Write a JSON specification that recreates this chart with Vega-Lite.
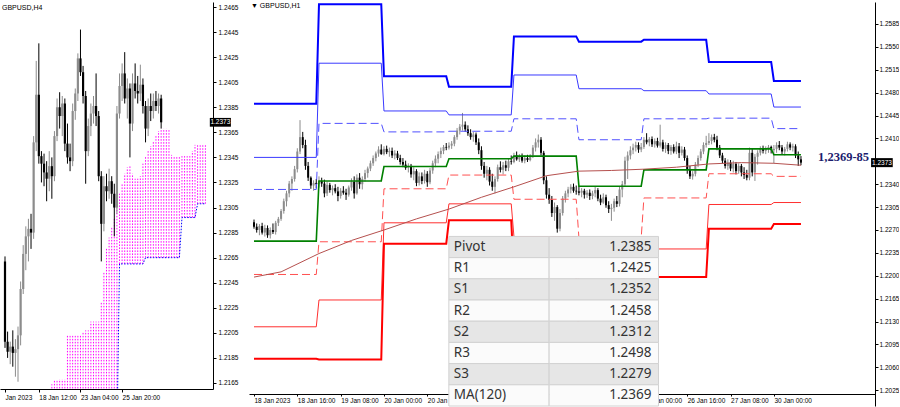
{
"$schema": "https://vega.github.io/schema/vega-lite/v6.json",
"padding": 0,
"background": "#ffffff",
"spacing": 6,
"config": {
 "view": {"stroke": null},
 "axis": {"labelFont": "Liberation Sans", "labelFontSize": 6.5, "labelColor": "#000000", "domainColor": "#000000", "tickColor": "#000000", "grid": false, "domainWidth": 1, "tickWidth": 1, "labelOverlap": false},
 "title": {"font": "Liberation Sans", "fontSize": 7, "fontWeight": "normal", "color": "#000000", "anchor": "start", "frame": "group", "offset": -9}
},
"datasets": {
 "one": [{}],
 "h4": [
{"i":0,"o":1.2262,"h":1.2266,"l":1.2193,"c":1.2198},
{"i":1,"o":1.2198,"h":1.2206,"l":1.2185,"c":1.2190},
{"i":2,"o":1.2190,"h":1.2198,"l":1.2180,"c":1.2194},
{"i":3,"o":1.2194,"h":1.2207,"l":1.2178,"c":1.2189},
{"i":4,"o":1.2189,"h":1.2200,"l":1.2170,"c":1.2192},
{"i":5,"o":1.2192,"h":1.2210,"l":1.2166,"c":1.2203},
{"i":6,"o":1.2203,"h":1.2246,"l":1.2195,"c":1.2240},
{"i":7,"o":1.2240,"h":1.2275,"l":1.2236,"c":1.2268},
{"i":8,"o":1.2268,"h":1.2290,"l":1.2255,"c":1.2282},
{"i":9,"o":1.2282,"h":1.2296,"l":1.2262,"c":1.2288},
{"i":10,"o":1.2288,"h":1.2300,"l":1.2272,"c":1.2285},
{"i":11,"o":1.2285,"h":1.2362,"l":1.2280,"c":1.2357},
{"i":12,"o":1.2357,"h":1.2422,"l":1.2350,"c":1.2395},
{"i":13,"o":1.2395,"h":1.2436,"l":1.2340,"c":1.2346},
{"i":14,"o":1.2346,"h":1.2350,"l":1.2325,"c":1.2340},
{"i":15,"o":1.2340,"h":1.2348,"l":1.2322,"c":1.2333},
{"i":16,"o":1.2333,"h":1.2342,"l":1.2310,"c":1.2328},
{"i":17,"o":1.2328,"h":1.2350,"l":1.2318,"c":1.2338},
{"i":18,"o":1.2338,"h":1.2345,"l":1.2312,"c":1.2330},
{"i":19,"o":1.2330,"h":1.2366,"l":1.2326,"c":1.2362},
{"i":20,"o":1.2362,"h":1.2392,"l":1.2358,"c":1.2385},
{"i":21,"o":1.2385,"h":1.2397,"l":1.2368,"c":1.2378},
{"i":22,"o":1.2378,"h":1.2394,"l":1.2362,"c":1.2388},
{"i":23,"o":1.2388,"h":1.2392,"l":1.2350,"c":1.2356},
{"i":24,"o":1.2356,"h":1.2372,"l":1.2340,"c":1.2345},
{"i":25,"o":1.2345,"h":1.2356,"l":1.2334,"c":1.2342},
{"i":26,"o":1.2342,"h":1.2388,"l":1.2338,"c":1.2382},
{"i":27,"o":1.2382,"h":1.2400,"l":1.2375,"c":1.2396},
{"i":28,"o":1.2396,"h":1.2428,"l":1.2390,"c":1.2424},
{"i":29,"o":1.2424,"h":1.2447,"l":1.2410,"c":1.2413},
{"i":30,"o":1.2413,"h":1.2418,"l":1.2388,"c":1.2394},
{"i":31,"o":1.2394,"h":1.2398,"l":1.2324,"c":1.2350},
{"i":32,"o":1.2350,"h":1.2376,"l":1.2346,"c":1.2370},
{"i":33,"o":1.2370,"h":1.2388,"l":1.2362,"c":1.2380},
{"i":34,"o":1.2380,"h":1.2394,"l":1.2372,"c":1.2386},
{"i":35,"o":1.2386,"h":1.2412,"l":1.2370,"c":1.2378},
{"i":36,"o":1.2378,"h":1.2382,"l":1.2326,"c":1.2330},
{"i":37,"o":1.2330,"h":1.2334,"l":1.2262,"c":1.2292},
{"i":38,"o":1.2292,"h":1.2330,"l":1.2286,"c":1.2322},
{"i":39,"o":1.2322,"h":1.2332,"l":1.2310,"c":1.2318},
{"i":40,"o":1.2318,"h":1.2336,"l":1.2312,"c":1.2326},
{"i":41,"o":1.2326,"h":1.2330,"l":1.2308,"c":1.2316},
{"i":42,"o":1.2316,"h":1.2324,"l":1.2282,"c":1.2305},
{"i":43,"o":1.2305,"h":1.2386,"l":1.2300,"c":1.2380},
{"i":44,"o":1.2380,"h":1.2412,"l":1.2376,"c":1.2402},
{"i":45,"o":1.2402,"h":1.2420,"l":1.2390,"c":1.2412},
{"i":46,"o":1.2412,"h":1.2429,"l":1.2388,"c":1.2392},
{"i":47,"o":1.2392,"h":1.2408,"l":1.2376,"c":1.2400},
{"i":48,"o":1.2400,"h":1.2404,"l":1.2345,"c":1.2372},
{"i":49,"o":1.2372,"h":1.2412,"l":1.2366,"c":1.2404},
{"i":50,"o":1.2404,"h":1.2420,"l":1.2392,"c":1.2398},
{"i":51,"o":1.2398,"h":1.2410,"l":1.2388,"c":1.2396},
{"i":52,"o":1.2396,"h":1.2419,"l":1.2390,"c":1.2403},
{"i":53,"o":1.2403,"h":1.2408,"l":1.2380,"c":1.2386},
{"i":54,"o":1.2386,"h":1.2390,"l":1.2357,"c":1.2368},
{"i":55,"o":1.2368,"h":1.2392,"l":1.2362,"c":1.2386},
{"i":56,"o":1.2386,"h":1.2396,"l":1.2374,"c":1.2382},
{"i":57,"o":1.2382,"h":1.2396,"l":1.2376,"c":1.2390},
{"i":58,"o":1.2390,"h":1.2398,"l":1.2382,"c":1.2386},
{"i":59,"o":1.2386,"h":1.2396,"l":1.2380,"c":1.2392},
{"i":60,"o":1.2392,"h":1.2395,"l":1.2368,"c":1.2373}
 ],
 "cloud": [
{"k":18,"t":1.2164,"b":1.2120},{"k":19,"t":1.2167,"b":1.2120},{"k":20,"t":1.2167,"b":1.2120},{"k":21,"t":1.2168,"b":1.2120},
{"k":22,"t":1.2168,"b":1.2120},{"k":23,"t":1.2168,"b":1.2120},{"k":24,"t":1.2203,"b":1.2120},{"k":25,"t":1.2203,"b":1.2120},
{"k":26,"t":1.2203,"b":1.2120},{"k":27,"t":1.2203,"b":1.2120},{"k":28,"t":1.2203,"b":1.2120},{"k":29,"t":1.2203,"b":1.2120},
{"k":30,"t":1.2205,"b":1.2120},{"k":31,"t":1.2207,"b":1.2120},{"k":32,"t":1.2207,"b":1.2120},{"k":33,"t":1.2214,"b":1.2120},
{"k":34,"t":1.2214,"b":1.2120},{"k":35,"t":1.2214,"b":1.2120},{"k":36,"t":1.2214,"b":1.2120},{"k":37,"t":1.2230,"b":1.2120},
{"k":38,"t":1.2254,"b":1.2120},{"k":39,"t":1.2273,"b":1.2120},{"k":40,"t":1.2281,"b":1.2120},{"k":41,"t":1.2289,"b":1.2120},
{"k":42,"t":1.2297,"b":1.2120},{"k":43,"t":1.2305,"b":1.2120},{"k":44,"t":1.2316,"b":1.2260},{"k":45,"t":1.2324,"b":1.2260},
{"k":46,"t":1.2332,"b":1.2260},{"k":47,"t":1.2337,"b":1.2260},{"k":48,"t":1.2339,"b":1.2260},{"k":49,"t":1.2332,"b":1.2260},
{"k":50,"t":1.2328,"b":1.2260},{"k":51,"t":1.2328,"b":1.2260},{"k":52,"t":1.2330,"b":1.2260},{"k":53,"t":1.2340,"b":1.2260},
{"k":54,"t":1.2346,"b":1.2265},{"k":55,"t":1.2350,"b":1.2265},{"k":56,"t":1.2354,"b":1.2265},{"k":57,"t":1.2358,"b":1.2265},
{"k":58,"t":1.2362,"b":1.2265},{"k":59,"t":1.2366,"b":1.2265},{"k":60,"t":1.2368,"b":1.2265},{"k":61,"t":1.2368,"b":1.2265},
{"k":62,"t":1.2368,"b":1.2265},{"k":63,"t":1.2367,"b":1.2265},{"k":64,"t":1.2347,"b":1.2265},{"k":65,"t":1.2346,"b":1.2265},
{"k":66,"t":1.2346,"b":1.2265},{"k":67,"t":1.2346,"b":1.2265},{"k":68,"t":1.2346,"b":1.2297},{"k":69,"t":1.2346,"b":1.2297},
{"k":70,"t":1.2346,"b":1.2297},{"k":71,"t":1.2346,"b":1.2297},{"k":72,"t":1.2350,"b":1.2297},{"k":73,"t":1.2355,"b":1.2297},
{"k":74,"t":1.2355,"b":1.2308},{"k":75,"t":1.2355,"b":1.2308},{"k":76,"t":1.2355,"b":1.2308},{"k":77,"t":1.2355,"b":1.2308}
 ],
 "h1": [
{"i":0,"o":1.2282,"h":1.2286,"l":1.2272,"c":1.2275},{"i":1,"o":1.2275,"h":1.2280,"l":1.2266,"c":1.2270},
{"i":2,"o":1.2270,"h":1.2279,"l":1.2262,"c":1.2276},{"i":3,"o":1.2276,"h":1.2281,"l":1.2263,"c":1.2266},
{"i":4,"o":1.2266,"h":1.2278,"l":1.2260,"c":1.2273},{"i":5,"o":1.2273,"h":1.2277,"l":1.2258,"c":1.2262},
{"i":6,"o":1.2262,"h":1.2274,"l":1.2257,"c":1.2270},{"i":7,"o":1.2270,"h":1.2280,"l":1.2264,"c":1.2267},
{"i":8,"o":1.2267,"h":1.2284,"l":1.2263,"c":1.2281},{"i":9,"o":1.2281,"h":1.2290,"l":1.2276,"c":1.2287},
{"i":10,"o":1.2287,"h":1.2302,"l":1.2284,"c":1.2299},{"i":11,"o":1.2299,"h":1.2318,"l":1.2295,"c":1.2314},
{"i":12,"o":1.2314,"h":1.2330,"l":1.2306,"c":1.2326},{"i":13,"o":1.2326,"h":1.2345,"l":1.2320,"c":1.2341},
{"i":14,"o":1.2341,"h":1.2352,"l":1.2330,"c":1.2348},{"i":15,"o":1.2348,"h":1.2368,"l":1.2344,"c":1.2363},
{"i":16,"o":1.2363,"h":1.2395,"l":1.2358,"c":1.2390},{"i":17,"o":1.2390,"h":1.2438,"l":1.2386,"c":1.2412},
{"i":18,"o":1.2412,"h":1.2420,"l":1.2395,"c":1.2400},{"i":19,"o":1.2400,"h":1.2408,"l":1.2362,"c":1.2368},
{"i":20,"o":1.2368,"h":1.2374,"l":1.2345,"c":1.2350},{"i":21,"o":1.2350,"h":1.2352,"l":1.2333,"c":1.2338},
{"i":22,"o":1.2338,"h":1.2346,"l":1.2330,"c":1.2342},{"i":23,"o":1.2342,"h":1.2348,"l":1.2334,"c":1.2340},
{"i":24,"o":1.2340,"h":1.2352,"l":1.2335,"c":1.2345},{"i":25,"o":1.2345,"h":1.2350,"l":1.2336,"c":1.2341},
{"i":26,"o":1.2341,"h":1.2347,"l":1.2320,"c":1.2326},{"i":27,"o":1.2326,"h":1.2344,"l":1.2322,"c":1.2339},
{"i":28,"o":1.2339,"h":1.2342,"l":1.2327,"c":1.2331},{"i":29,"o":1.2331,"h":1.2338,"l":1.2323,"c":1.2334},
{"i":30,"o":1.2334,"h":1.2340,"l":1.2326,"c":1.2329},{"i":31,"o":1.2329,"h":1.2336,"l":1.2314,"c":1.2322},
{"i":32,"o":1.2322,"h":1.2334,"l":1.2318,"c":1.2330},{"i":33,"o":1.2330,"h":1.2337,"l":1.2324,"c":1.2327},
{"i":34,"o":1.2327,"h":1.2333,"l":1.2316,"c":1.2324},{"i":35,"o":1.2324,"h":1.2338,"l":1.2321,"c":1.2335},
{"i":36,"o":1.2335,"h":1.2349,"l":1.2330,"c":1.2344},{"i":37,"o":1.2344,"h":1.2352,"l":1.2318,"c":1.2326},
{"i":38,"o":1.2326,"h":1.2355,"l":1.2324,"c":1.2350},{"i":39,"o":1.2350,"h":1.2357,"l":1.2333,"c":1.2340},
{"i":40,"o":1.2340,"h":1.2352,"l":1.2332,"c":1.2348},{"i":41,"o":1.2348,"h":1.2362,"l":1.2344,"c":1.2357},
{"i":42,"o":1.2357,"h":1.2367,"l":1.2350,"c":1.2364},{"i":43,"o":1.2364,"h":1.2376,"l":1.2360,"c":1.2372},
{"i":44,"o":1.2372,"h":1.2384,"l":1.2368,"c":1.2380},{"i":45,"o":1.2380,"h":1.2390,"l":1.2375,"c":1.2387},
{"i":46,"o":1.2387,"h":1.2398,"l":1.2382,"c":1.2393},{"i":47,"o":1.2393,"h":1.2401,"l":1.2385,"c":1.2386},
{"i":48,"o":1.2386,"h":1.2398,"l":1.2384,"c":1.2394},{"i":49,"o":1.2394,"h":1.2399,"l":1.2386,"c":1.2389},
{"i":50,"o":1.2389,"h":1.2396,"l":1.2382,"c":1.2391},{"i":51,"o":1.2391,"h":1.2396,"l":1.2380,"c":1.2384},
{"i":52,"o":1.2384,"h":1.2392,"l":1.2378,"c":1.2387},{"i":53,"o":1.2387,"h":1.2391,"l":1.2377,"c":1.2380},
{"i":54,"o":1.2380,"h":1.2385,"l":1.2370,"c":1.2374},{"i":55,"o":1.2374,"h":1.2380,"l":1.2366,"c":1.2370},
{"i":56,"o":1.2370,"h":1.2376,"l":1.2362,"c":1.2365},{"i":57,"o":1.2365,"h":1.2372,"l":1.2358,"c":1.2368},
{"i":58,"o":1.2368,"h":1.2371,"l":1.2350,"c":1.2355},{"i":59,"o":1.2355,"h":1.2366,"l":1.2346,"c":1.2360},
{"i":60,"o":1.2360,"h":1.2363,"l":1.2337,"c":1.2342},{"i":61,"o":1.2342,"h":1.2358,"l":1.2338,"c":1.2352},
{"i":62,"o":1.2352,"h":1.2358,"l":1.2340,"c":1.2345},{"i":63,"o":1.2345,"h":1.2362,"l":1.2341,"c":1.2356},
{"i":64,"o":1.2356,"h":1.2360,"l":1.2336,"c":1.2343},{"i":65,"o":1.2343,"h":1.2365,"l":1.2340,"c":1.2361},
{"i":66,"o":1.2361,"h":1.2376,"l":1.2356,"c":1.2372},{"i":67,"o":1.2372,"h":1.2384,"l":1.2366,"c":1.2379},
{"i":68,"o":1.2379,"h":1.2390,"l":1.2372,"c":1.2386},{"i":69,"o":1.2386,"h":1.2396,"l":1.2380,"c":1.2391},
{"i":70,"o":1.2391,"h":1.2400,"l":1.2386,"c":1.2397},{"i":71,"o":1.2397,"h":1.2403,"l":1.2392,"c":1.2396},
{"i":72,"o":1.2396,"h":1.2404,"l":1.2393,"c":1.2399},{"i":73,"o":1.2399,"h":1.2406,"l":1.2394,"c":1.2402},
{"i":74,"o":1.2402,"h":1.2415,"l":1.2398,"c":1.2412},{"i":75,"o":1.2412,"h":1.2426,"l":1.2408,"c":1.2422},
{"i":76,"o":1.2422,"h":1.2432,"l":1.2416,"c":1.2428},{"i":77,"o":1.2428,"h":1.2449,"l":1.2422,"c":1.2431},
{"i":78,"o":1.2431,"h":1.2436,"l":1.2420,"c":1.2424},{"i":79,"o":1.2424,"h":1.2430,"l":1.2414,"c":1.2418},
{"i":80,"o":1.2418,"h":1.2424,"l":1.2408,"c":1.2412},{"i":81,"o":1.2412,"h":1.2420,"l":1.2405,"c":1.2416},
{"i":82,"o":1.2416,"h":1.2419,"l":1.2400,"c":1.2404},{"i":83,"o":1.2404,"h":1.2410,"l":1.2386,"c":1.2392},
{"i":84,"o":1.2392,"h":1.2398,"l":1.2362,"c":1.2368},{"i":85,"o":1.2368,"h":1.2374,"l":1.2350,"c":1.2356},
{"i":86,"o":1.2356,"h":1.2368,"l":1.2346,"c":1.2362},{"i":87,"o":1.2362,"h":1.2366,"l":1.2338,"c":1.2344},
{"i":88,"o":1.2344,"h":1.2356,"l":1.2330,"c":1.2336},{"i":89,"o":1.2336,"h":1.2352,"l":1.2326,"c":1.2348},
{"i":90,"o":1.2348,"h":1.2370,"l":1.2344,"c":1.2366},{"i":91,"o":1.2366,"h":1.2375,"l":1.2358,"c":1.2362},
{"i":92,"o":1.2362,"h":1.2374,"l":1.2355,"c":1.2369},{"i":93,"o":1.2369,"h":1.2376,"l":1.2360,"c":1.2365},
{"i":94,"o":1.2365,"h":1.2380,"l":1.2360,"c":1.2375},{"i":95,"o":1.2375,"h":1.2384,"l":1.2370,"c":1.2374},
{"i":96,"o":1.2374,"h":1.2388,"l":1.2372,"c":1.2384},{"i":97,"o":1.2384,"h":1.2390,"l":1.2376,"c":1.2378},
{"i":98,"o":1.2378,"h":1.2386,"l":1.2374,"c":1.2382},{"i":99,"o":1.2382,"h":1.2387,"l":1.2373,"c":1.2376},
{"i":100,"o":1.2376,"h":1.2384,"l":1.2372,"c":1.2380},{"i":101,"o":1.2380,"h":1.2385,"l":1.2374,"c":1.2377},
{"i":102,"o":1.2377,"h":1.2386,"l":1.2375,"c":1.2384},{"i":103,"o":1.2384,"h":1.2400,"l":1.2380,"c":1.2396},
{"i":104,"o":1.2396,"h":1.2410,"l":1.2390,"c":1.2404},{"i":105,"o":1.2404,"h":1.2416,"l":1.2396,"c":1.2408},
{"i":106,"o":1.2408,"h":1.2412,"l":1.2384,"c":1.2388},{"i":107,"o":1.2388,"h":1.2391,"l":1.2340,"c":1.2346},
{"i":108,"o":1.2346,"h":1.2352,"l":1.2318,"c":1.2324},{"i":109,"o":1.2324,"h":1.2334,"l":1.2310,"c":1.2316},
{"i":110,"o":1.2316,"h":1.2322,"l":1.2290,"c":1.2296},{"i":111,"o":1.2296,"h":1.2312,"l":1.2284,"c":1.2305},
{"i":112,"o":1.2305,"h":1.2308,"l":1.2266,"c":1.2272},{"i":113,"o":1.2272,"h":1.2302,"l":1.2268,"c":1.2296},
{"i":114,"o":1.2296,"h":1.2322,"l":1.2292,"c":1.2318},{"i":115,"o":1.2318,"h":1.2330,"l":1.2312,"c":1.2326},
{"i":116,"o":1.2326,"h":1.2336,"l":1.2320,"c":1.2332},{"i":117,"o":1.2332,"h":1.2340,"l":1.2326,"c":1.2336},
{"i":118,"o":1.2336,"h":1.2341,"l":1.2327,"c":1.2330},{"i":119,"o":1.2330,"h":1.2338,"l":1.2324,"c":1.2329},
{"i":120,"o":1.2329,"h":1.2337,"l":1.2323,"c":1.2327},{"i":121,"o":1.2327,"h":1.2334,"l":1.2320,"c":1.2330},
{"i":122,"o":1.2330,"h":1.2333,"l":1.2318,"c":1.2324},{"i":123,"o":1.2324,"h":1.2331,"l":1.2319,"c":1.2327},
{"i":124,"o":1.2327,"h":1.2332,"l":1.2316,"c":1.2322},{"i":125,"o":1.2322,"h":1.2330,"l":1.2317,"c":1.2326},
{"i":126,"o":1.2326,"h":1.2336,"l":1.2320,"c":1.2331},{"i":127,"o":1.2331,"h":1.2334,"l":1.2314,"c":1.2318},
{"i":128,"o":1.2318,"h":1.2324,"l":1.2308,"c":1.2312},{"i":129,"o":1.2312,"h":1.2326,"l":1.2310,"c":1.2320},
{"i":130,"o":1.2320,"h":1.2324,"l":1.2304,"c":1.2308},{"i":131,"o":1.2308,"h":1.2314,"l":1.2296,"c":1.2302},
{"i":132,"o":1.2302,"h":1.2310,"l":1.2284,"c":1.2304},{"i":133,"o":1.2304,"h":1.2318,"l":1.2298,"c":1.2314},
{"i":134,"o":1.2314,"h":1.2322,"l":1.2305,"c":1.2310},{"i":135,"o":1.2310,"h":1.2336,"l":1.2306,"c":1.2332},
{"i":136,"o":1.2332,"h":1.2345,"l":1.2320,"c":1.2340},{"i":137,"o":1.2340,"h":1.2382,"l":1.2336,"c":1.2376},
{"i":138,"o":1.2376,"h":1.2390,"l":1.2348,"c":1.2384},{"i":139,"o":1.2384,"h":1.2398,"l":1.2378,"c":1.2392},
{"i":140,"o":1.2392,"h":1.2402,"l":1.2386,"c":1.2396},{"i":141,"o":1.2396,"h":1.2405,"l":1.2390,"c":1.2400},
{"i":142,"o":1.2400,"h":1.2404,"l":1.2388,"c":1.2393},{"i":143,"o":1.2393,"h":1.2403,"l":1.2389,"c":1.2397},
{"i":144,"o":1.2397,"h":1.2412,"l":1.2394,"c":1.2408},{"i":145,"o":1.2408,"h":1.2418,"l":1.2401,"c":1.2404},
{"i":146,"o":1.2404,"h":1.2412,"l":1.2398,"c":1.2409},{"i":147,"o":1.2409,"h":1.2413,"l":1.2397,"c":1.2401},
{"i":148,"o":1.2401,"h":1.2410,"l":1.2396,"c":1.2406},{"i":149,"o":1.2406,"h":1.2411,"l":1.2396,"c":1.2399},
{"i":150,"o":1.2399,"h":1.2431,"l":1.2396,"c":1.2404},{"i":151,"o":1.2404,"h":1.2408,"l":1.2390,"c":1.2394},
{"i":152,"o":1.2394,"h":1.2404,"l":1.2388,"c":1.2400},{"i":153,"o":1.2400,"h":1.2403,"l":1.2386,"c":1.2391},
{"i":154,"o":1.2391,"h":1.2400,"l":1.2385,"c":1.2397},{"i":155,"o":1.2397,"h":1.2401,"l":1.2387,"c":1.2390},
{"i":156,"o":1.2390,"h":1.2405,"l":1.2386,"c":1.2398},{"i":157,"o":1.2398,"h":1.2403,"l":1.2380,"c":1.2388},
{"i":158,"o":1.2388,"h":1.2398,"l":1.2384,"c":1.2393},{"i":159,"o":1.2393,"h":1.2397,"l":1.2376,"c":1.2380},
{"i":160,"o":1.2380,"h":1.2384,"l":1.2356,"c":1.2362},{"i":161,"o":1.2362,"h":1.2368,"l":1.2348,"c":1.2352},
{"i":162,"o":1.2352,"h":1.2360,"l":1.2347,"c":1.2356},{"i":163,"o":1.2356,"h":1.2374,"l":1.2352,"c":1.2370},
{"i":164,"o":1.2370,"h":1.2384,"l":1.2366,"c":1.2380},{"i":165,"o":1.2380,"h":1.2394,"l":1.2376,"c":1.2390},
{"i":166,"o":1.2390,"h":1.2404,"l":1.2386,"c":1.2400},{"i":167,"o":1.2400,"h":1.2414,"l":1.2396,"c":1.2403},
{"i":168,"o":1.2403,"h":1.2418,"l":1.2400,"c":1.2406},{"i":169,"o":1.2406,"h":1.2416,"l":1.2401,"c":1.2412},
{"i":170,"o":1.2412,"h":1.2417,"l":1.2404,"c":1.2408},{"i":171,"o":1.2408,"h":1.2414,"l":1.2392,"c":1.2396},
{"i":172,"o":1.2396,"h":1.2400,"l":1.2380,"c":1.2384},{"i":173,"o":1.2384,"h":1.2388,"l":1.2372,"c":1.2376},
{"i":174,"o":1.2376,"h":1.2380,"l":1.2364,"c":1.2368},{"i":175,"o":1.2368,"h":1.2378,"l":1.2362,"c":1.2373},
{"i":176,"o":1.2373,"h":1.2377,"l":1.2360,"c":1.2364},{"i":177,"o":1.2364,"h":1.2376,"l":1.2358,"c":1.2371},
{"i":178,"o":1.2371,"h":1.2374,"l":1.2355,"c":1.2360},{"i":179,"o":1.2360,"h":1.2372,"l":1.2356,"c":1.2368},
{"i":180,"o":1.2368,"h":1.2371,"l":1.2352,"c":1.2358},{"i":181,"o":1.2358,"h":1.2366,"l":1.2348,"c":1.2354},
{"i":182,"o":1.2354,"h":1.2362,"l":1.2346,"c":1.2350},{"i":183,"o":1.2350,"h":1.2396,"l":1.2346,"c":1.2388},
{"i":184,"o":1.2388,"h":1.2394,"l":1.2352,"c":1.2358},{"i":185,"o":1.2358,"h":1.2386,"l":1.2345,"c":1.2382},
{"i":186,"o":1.2382,"h":1.2392,"l":1.2370,"c":1.2388},{"i":187,"o":1.2388,"h":1.2398,"l":1.2384,"c":1.2394},
{"i":188,"o":1.2394,"h":1.2399,"l":1.2387,"c":1.2391},{"i":189,"o":1.2391,"h":1.2398,"l":1.2386,"c":1.2395},
{"i":190,"o":1.2395,"h":1.2400,"l":1.2388,"c":1.2397},{"i":191,"o":1.2397,"h":1.2399,"l":1.2387,"c":1.2392},
{"i":192,"o":1.2392,"h":1.2400,"l":1.2372,"c":1.2394},{"i":193,"o":1.2394,"h":1.2404,"l":1.2388,"c":1.2400},
{"i":194,"o":1.2400,"h":1.2406,"l":1.2392,"c":1.2396},{"i":195,"o":1.2396,"h":1.2400,"l":1.2386,"c":1.2390},
{"i":196,"o":1.2390,"h":1.2397,"l":1.2384,"c":1.2394},{"i":197,"o":1.2394,"h":1.2405,"l":1.2390,"c":1.2401},
{"i":198,"o":1.2401,"h":1.2404,"l":1.2392,"c":1.2396},{"i":199,"o":1.2396,"h":1.2402,"l":1.2390,"c":1.2398},
{"i":200,"o":1.2398,"h":1.2401,"l":1.2380,"c":1.2384},{"i":201,"o":1.2384,"h":1.2390,"l":1.2368,"c":1.2378},
{"i":202,"o":1.2378,"h":1.2383,"l":1.2369,"c":1.2373}
 ],
 "piv": [
{"i":0,"R3":1.2463,"R2":1.2381,"R1":1.2332,"P":1.2253,"S1":1.2202,"S2":1.2122,"S3":1.2073},
{"i":23,"R3":1.2463,"R2":1.2381,"R1":1.2332,"P":1.2253,"S1":1.2202,"S2":1.2122,"S3":1.2073},
{"i":24,"R3":1.2615,"R2":1.2525,"R1":1.2433,"P":1.2345,"S1":1.2252,"S2":1.2163,"S3":1.2072},
{"i":47,"R3":1.2615,"R2":1.2525,"R1":1.2433,"P":1.2345,"S1":1.2252,"S2":1.2163,"S3":1.2072},
{"i":48,"R3":1.2505,"R2":1.2452,"R1":1.2420,"P":1.2367,"S1":1.2333,"S2":1.2281,"S3":1.2249},
{"i":71,"R3":1.2505,"R2":1.2452,"R1":1.2420,"P":1.2367,"S1":1.2333,"S2":1.2281,"S3":1.2249},
{"i":72,"R3":1.2489,"R2":1.2446,"R1":1.2421,"P":1.2379,"S1":1.2354,"S2":1.2310,"S3":1.2285},
{"i":95,"R3":1.2489,"R2":1.2446,"R1":1.2421,"P":1.2379,"S1":1.2354,"S2":1.2310,"S3":1.2285},
{"i":96,"R3":1.2566,"R2":1.2507,"R1":1.2440,"P":1.2383,"S1":1.2317,"S2":1.2260,"S3":1.2198},
{"i":119,"R3":1.2566,"R2":1.2507,"R1":1.2440,"P":1.2383,"S1":1.2317,"S2":1.2260,"S3":1.2198},
{"i":120,"R3":1.2558,"R2":1.2486,"R1":1.2408,"P":1.2337,"S1":1.2258,"S2":1.2187,"S3":1.2108},
{"i":143,"R3":1.2558,"R2":1.2486,"R1":1.2408,"P":1.2337,"S1":1.2258,"S2":1.2187,"S3":1.2108},
{"i":144,"R3":1.2561,"R2":1.2483,"R1":1.2440,"P":1.2362,"S1":1.2319,"S2":1.2241,"S3":1.2198},
{"i":167,"R3":1.2561,"R2":1.2483,"R1":1.2440,"P":1.2362,"S1":1.2319,"S2":1.2241,"S3":1.2198},
{"i":168,"R3":1.2527,"R2":1.2478,"R1":1.2441,"P":1.2394,"S1":1.2356,"S2":1.2309,"S3":1.2272},
{"i":191,"R3":1.2527,"R2":1.2478,"R1":1.2441,"P":1.2394,"S1":1.2356,"S2":1.2309,"S3":1.2272},
{"i":192,"R3":1.2498,"R2":1.2458,"R1":1.2425,"P":1.2385,"S1":1.2352,"S2":1.2312,"S3":1.2279},
{"i":202,"R3":1.2498,"R2":1.2458,"R1":1.2425,"P":1.2385,"S1":1.2352,"S2":1.2312,"S3":1.2279}
 ],
 "ma": [
{"i":0,"v":1.2198},{"i":10,"v":1.2206},{"i":24,"v":1.2234},{"i":36,"v":1.2254},{"i":48,"v":1.2270},
{"i":60,"v":1.2287},{"i":72,"v":1.2302},{"i":84,"v":1.2320},{"i":96,"v":1.2336},{"i":108,"v":1.2353},
{"i":120,"v":1.2360},{"i":132,"v":1.2361},{"i":144,"v":1.2363},{"i":156,"v":1.2366},{"i":168,"v":1.2371},
{"i":180,"v":1.2373},{"i":192,"v":1.2372},{"i":202,"v":1.2369}
 ],
 "tbl": [
{"k":"Pivot","v":1.2385},{"k":"R1","v":1.2425},{"k":"S1","v":1.2352},{"k":"R2","v":1.2458},
{"k":"S2","v":1.2312},{"k":"R3","v":1.2498},{"k":"S3","v":1.2279},{"k":"MA(120)","v":1.2369}
 ]
},
"hconcat": [
 {
  "width": 213, "height": 387,
  "title": {"text": "GBPUSD,H4", "dx": 2},
  "layer": [
   {"data": {"name": "cloud"},
    "mark": {"type": "rule", "clip": true, "color": "#ff00ff", "strokeDash": [1.5, 1.5], "strokeWidth": 1},
    "encoding": {
     "x": {"field": "k", "type": "quantitative", "title": null, "scale": {"domain": [0, 78], "nice": false, "zero": false},
      "axis": {"values": [0, 13, 29, 45], "labelExpr": "datum.value == 0 ? 'Jan 2023' : datum.value == 13 ? '18 Jan 12:00' : datum.value == 29 ? '23 Jan 04:00' : '25 Jan 20:00'", "labelAlign": "left", "tickSize": 3, "labelPadding": 2, "labelOverlap": false, "labelFlush": false, "tickCount": 100}},
     "y": {"field": "b", "type": "quantitative", "title": null, "scale": {"domain": [1.21602, 1.2469], "nice": false, "zero": false},
      "axis": {"orient": "right", "values": [1.2165,1.2185,1.2205,1.2225,1.2245,1.2265,1.2285,1.2305,1.2325,1.2345,1.2365,1.2385,1.2405,1.2425,1.2445,1.2465], "format": ".4f", "tickSize": 3, "labelPadding": 2, "minExtent": 30, "maxExtent": 30, "labelOverlap": false, "tickCount": 100}},
     "y2": {"field": "t"}
    }},
   {"data": {"name": "cloud"},
    "transform": [{"filter": "datum.k >= 43"}],
    "mark": {"type": "line", "clip": true, "color": "#0000ff", "strokeDash": [1.5, 1.5], "strokeWidth": 1},
    "encoding": {
     "x": {"field": "k", "type": "quantitative", "title": null, "scale": {"domain": [0, 78], "nice": false, "zero": false}},
     "y": {"field": "b", "type": "quantitative", "title": null, "scale": {"domain": [1.21602, 1.2469], "nice": false, "zero": false}}
    }},
   {"data": {"name": "h4"},
    "mark": {"type": "rule", "strokeWidth": 1},
    "encoding": {
     "x": {"field": "i", "type": "quantitative", "title": null, "scale": {"domain": [0, 78], "nice": false, "zero": false}},
     "y": {"field": "l", "type": "quantitative", "title": null, "scale": {"domain": [1.21602, 1.2469], "nice": false, "zero": false}},
     "y2": {"field": "h"},
     "color": {"condition": {"test": "datum.c < datum.o", "value": "#000000"}, "value": "#8c8c8c"}
    }},
   {"data": {"name": "h4"},
    "mark": {"type": "bar", "width": 2.2},
    "encoding": {
     "x": {"field": "i", "type": "quantitative", "title": null, "scale": {"domain": [0, 78], "nice": false, "zero": false}},
     "y": {"field": "o", "type": "quantitative", "title": null, "scale": {"domain": [1.21602, 1.2469], "nice": false, "zero": false}},
     "y2": {"field": "c"},
     "color": {"condition": {"test": "datum.c < datum.o", "value": "#000000"}, "value": "#8c8c8c"}
    }},
   {"data": {"name": "one"},
    "mark": {"type": "rect", "color": "#000000"},
    "encoding": {
     "x": {"datum": 78.7, "type": "quantitative", "title": null, "scale": {"domain": [0, 78], "nice": false, "zero": false}},
     "x2": {"datum": 86.8},
     "y": {"datum": 1.23765, "type": "quantitative", "title": null, "scale": {"domain": [1.21602, 1.2469], "nice": false, "zero": false}},
     "y2": {"datum": 1.23695}
    }},
   {"data": {"name": "one"},
    "mark": {"type": "text", "text": "1.2373", "color": "#ffffff", "font": "Liberation Sans", "fontSize": 6.5, "align": "center", "baseline": "middle"},
    "encoding": {
     "x": {"datum": 82.75, "type": "quantitative", "title": null, "scale": {"domain": [0, 78], "nice": false, "zero": false}},
     "y": {"datum": 1.2373, "type": "quantitative", "title": null, "scale": {"domain": [1.21602, 1.2469], "nice": false, "zero": false}}
    }}
  ]
 },
 {
  "width": 626, "height": 404,
  "title": {"text": "▼  GBPUSD,H1", "dx": 2},
  "resolve": {"scale": {"y": "independent", "color": "independent"}},
  "layer": [
   {"layer": [
    {"data": {"name": "h1"},
     "mark": {"type": "rule", "strokeWidth": 1},
     "encoding": {
      "x": {"field": "i", "type": "quantitative", "title": null, "scale": {"domain": [0, 227.5], "nice": false, "zero": false},
       "axis": {"values": [0,16,32,48,64,144,160,176,192], "labelExpr": "['18 Jan 2023','18 Jan 16:00','19 Jan 08:00','20 Jan 00:00','20 Jan 16:00','23 Jan 08:00','24 Jan 00:00','24 Jan 16:00','25 Jan 08:00','26 Jan 00:00','26 Jan 16:00','27 Jan 08:00','30 Jan 00:00'][round(datum.value / 16)]", "labelAlign": "left", "offset": -12, "tickSize": 2, "labelPadding": 1, "labelOverlap": false, "labelFlush": false, "tickCount": 100}},
      "y": {"field": "l", "type": "quantitative", "title": null, "scale": {"domain": [1.20009, 1.26186], "nice": false, "zero": false},
       "axis": {"orient": "right", "values": [1.2025,1.2060,1.2095,1.2130,1.2165,1.2200,1.2235,1.2270,1.2305,1.2340,1.2410,1.2445,1.2480,1.2515,1.2550,1.2585], "format": ".4f", "tickSize": 3, "labelPadding": 1, "labelOverlap": false, "tickCount": 100}},
      "y2": {"field": "h"},
      "color": {"condition": {"test": "datum.c < datum.o", "value": "#000000"}, "value": "#8c8c8c"}
     }},
    {"data": {"name": "h1"},
     "mark": {"type": "bar", "width": 2},
     "encoding": {
      "x": {"field": "i", "type": "quantitative", "title": null, "scale": {"domain": [0, 227.5], "nice": false, "zero": false}},
      "y": {"field": "o", "type": "quantitative", "title": null, "scale": {"domain": [1.20009, 1.26186], "nice": false, "zero": false}},
      "y2": {"field": "c"},
      "color": {"condition": {"test": "datum.c < datum.o", "value": "#000000"}, "value": "#8c8c8c"}
     }},
    {"data": {"name": "piv"}, "mark": {"type": "line", "color": "#0000ff", "strokeWidth": 2},
     "encoding": {"x": {"field": "i", "type": "quantitative", "title": null, "scale": {"domain": [0, 227.5], "nice": false, "zero": false}},
      "y": {"field": "R3", "type": "quantitative", "title": null, "scale": {"domain": [1.20009, 1.26186], "nice": false, "zero": false}}}},
    {"data": {"name": "piv"}, "mark": {"type": "line", "color": "#3a3aff", "strokeWidth": 1},
     "encoding": {"x": {"field": "i", "type": "quantitative", "title": null, "scale": {"domain": [0, 227.5], "nice": false, "zero": false}},
      "y": {"field": "R2", "type": "quantitative", "title": null, "scale": {"domain": [1.20009, 1.26186], "nice": false, "zero": false}}}},
    {"data": {"name": "piv"}, "mark": {"type": "line", "color": "#5050ff", "strokeWidth": 1, "strokeDash": [8, 4]},
     "encoding": {"x": {"field": "i", "type": "quantitative", "title": null, "scale": {"domain": [0, 227.5], "nice": false, "zero": false}},
      "y": {"field": "R1", "type": "quantitative", "title": null, "scale": {"domain": [1.20009, 1.26186], "nice": false, "zero": false}}}},
    {"data": {"name": "piv"}, "mark": {"type": "line", "color": "#008000", "strokeWidth": 1.6},
     "encoding": {"x": {"field": "i", "type": "quantitative", "title": null, "scale": {"domain": [0, 227.5], "nice": false, "zero": false}},
      "y": {"field": "P", "type": "quantitative", "title": null, "scale": {"domain": [1.20009, 1.26186], "nice": false, "zero": false}}}},
    {"data": {"name": "piv"}, "mark": {"type": "line", "color": "#ff5050", "strokeWidth": 1, "strokeDash": [8, 4]},
     "encoding": {"x": {"field": "i", "type": "quantitative", "title": null, "scale": {"domain": [0, 227.5], "nice": false, "zero": false}},
      "y": {"field": "S1", "type": "quantitative", "title": null, "scale": {"domain": [1.20009, 1.26186], "nice": false, "zero": false}}}},
    {"data": {"name": "piv"}, "mark": {"type": "line", "color": "#ff3030", "strokeWidth": 1},
     "encoding": {"x": {"field": "i", "type": "quantitative", "title": null, "scale": {"domain": [0, 227.5], "nice": false, "zero": false}},
      "y": {"field": "S2", "type": "quantitative", "title": null, "scale": {"domain": [1.20009, 1.26186], "nice": false, "zero": false}}}},
    {"data": {"name": "piv"}, "mark": {"type": "line", "color": "#ff0000", "strokeWidth": 2},
     "encoding": {"x": {"field": "i", "type": "quantitative", "title": null, "scale": {"domain": [0, 227.5], "nice": false, "zero": false}},
      "y": {"field": "S3", "type": "quantitative", "title": null, "scale": {"domain": [1.20009, 1.26186], "nice": false, "zero": false}}}},
    {"data": {"name": "ma"}, "mark": {"type": "line", "color": "#b5504e", "strokeWidth": 1},
     "encoding": {"x": {"field": "i", "type": "quantitative", "title": null, "scale": {"domain": [0, 227.5], "nice": false, "zero": false}},
      "y": {"field": "v", "type": "quantitative", "title": null, "scale": {"domain": [1.20009, 1.26186], "nice": false, "zero": false}}}},
    {"data": {"name": "one"},
     "mark": {"type": "text", "text": "1,2369-85", "font": "Liberation Serif", "fontWeight": "bold", "fontSize": 12.5, "color": "#1c1c6e", "align": "left", "baseline": "middle"},
     "encoding": {"x": {"datum": 208.3, "type": "quantitative", "title": null, "scale": {"domain": [0, 227.5], "nice": false, "zero": false}},
      "y": {"datum": 1.2382, "type": "quantitative", "title": null, "scale": {"domain": [1.20009, 1.26186], "nice": false, "zero": false}}}},
    {"data": {"name": "one"},
     "mark": {"type": "rect", "color": "#000000"},
     "encoding": {"x": {"datum": 227.9, "type": "quantitative", "title": null, "scale": {"domain": [0, 227.5], "nice": false, "zero": false}},
      "x2": {"datum": 235.9},
      "y": {"datum": 1.23799, "type": "quantitative", "title": null, "scale": {"domain": [1.20009, 1.26186], "nice": false, "zero": false}},
      "y2": {"datum": 1.23661}}},
    {"data": {"name": "one"},
     "mark": {"type": "text", "text": "1.2373", "color": "#ffffff", "font": "Liberation Sans", "fontSize": 6.5, "align": "center", "baseline": "middle"},
     "encoding": {"x": {"datum": 231.9, "type": "quantitative", "title": null, "scale": {"domain": [0, 227.5], "nice": false, "zero": false}},
      "y": {"datum": 1.2373, "type": "quantitative", "title": null, "scale": {"domain": [1.20009, 1.26186], "nice": false, "zero": false}}}}
   ]},
   {"data": {"name": "tbl"},
    "layer": [
     {"mark": {"type": "bar", "stroke": "#d2d2d2", "strokeWidth": 1},
      "encoding": {
       "x": {"datum": 71.96, "type": "quantitative", "title": null, "scale": {"domain": [0, 227.5], "nice": false, "zero": false}},
       "x2": {"datum": 109.0},
       "y": {"field": "k", "type": "nominal", "axis": null, "sort": null, "scale": {"type": "band", "domain": ["_0","_1","_2","_3","_4","_5","_6","_7","_8","_9","Pivot","R1","S1","R2","S2","R3","S3","MA(120)"], "paddingInner": 0, "paddingOuter": 0.53, "align": 1}},
       "color": {"field": "k", "type": "nominal", "legend": null, "scale": {"domain": ["Pivot","R1","S1","R2","S2","R3","S3","MA(120)"], "range": ["#e6e6e6","#fbfbfb","#e6e6e6","#fbfbfb","#e6e6e6","#fbfbfb","#e6e6e6","#fbfbfb"]}}
      }},
     {"mark": {"type": "bar", "stroke": "#d2d2d2", "strokeWidth": 1},
      "encoding": {
       "x": {"datum": 109.0, "type": "quantitative", "title": null, "scale": {"domain": [0, 227.5], "nice": false, "zero": false}},
       "x2": {"datum": 149.4},
       "y": {"field": "k", "type": "nominal", "axis": null, "sort": null, "scale": {"type": "band", "domain": ["_0","_1","_2","_3","_4","_5","_6","_7","_8","_9","Pivot","R1","S1","R2","S2","R3","S3","MA(120)"], "paddingInner": 0, "paddingOuter": 0.53, "align": 1}},
       "color": {"field": "k", "type": "nominal", "legend": null, "scale": {"domain": ["Pivot","R1","S1","R2","S2","R3","S3","MA(120)"], "range": ["#e6e6e6","#fbfbfb","#e6e6e6","#fbfbfb","#e6e6e6","#fbfbfb","#e6e6e6","#fbfbfb"]}}
      }},
     {"mark": {"type": "text", "font": "Noto Sans", "fontSize": 13.5, "color": "#333333", "align": "left", "baseline": "middle"},
      "encoding": {
       "x": {"datum": 73.8, "type": "quantitative", "title": null, "scale": {"domain": [0, 227.5], "nice": false, "zero": false}},
       "y": {"field": "k", "type": "nominal", "axis": null, "sort": null, "scale": {"type": "band", "domain": ["_0","_1","_2","_3","_4","_5","_6","_7","_8","_9","Pivot","R1","S1","R2","S2","R3","S3","MA(120)"], "paddingInner": 0, "paddingOuter": 0.53, "align": 1}},
       "text": {"field": "k"}
      }},
     {"mark": {"type": "text", "font": "Noto Sans", "fontSize": 13.5, "color": "#333333", "align": "right", "baseline": "middle"},
      "encoding": {
       "x": {"datum": 146.8, "type": "quantitative", "title": null, "scale": {"domain": [0, 227.5], "nice": false, "zero": false}},
       "y": {"field": "k", "type": "nominal", "axis": null, "sort": null, "scale": {"type": "band", "domain": ["_0","_1","_2","_3","_4","_5","_6","_7","_8","_9","Pivot","R1","S1","R2","S2","R3","S3","MA(120)"], "paddingInner": 0, "paddingOuter": 0.53, "align": 1}},
       "text": {"field": "v", "format": ".4f"}
      }}
    ]}
  ]
 }
]
}
